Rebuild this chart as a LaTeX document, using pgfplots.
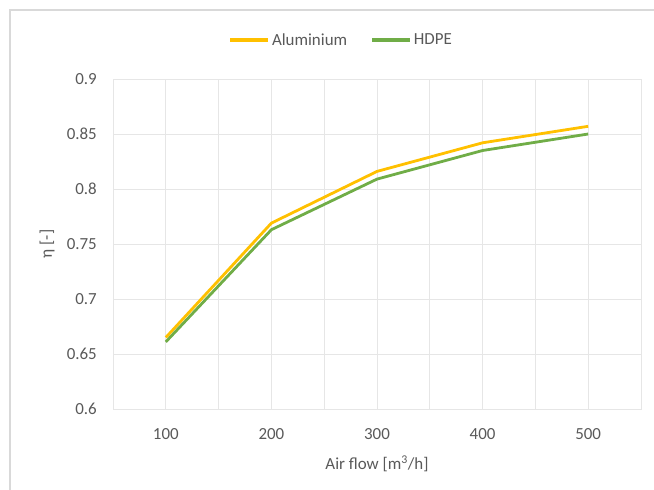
\documentclass[border=0pt]{standalone}
\usepackage{pgfplots}
\pgfplotsset{compat=1.18}
\usepackage{fontspec}
\setmainfont{Carlito}
\definecolor{alu}{HTML}{FFC000}
\definecolor{hdpe}{HTML}{70AD47}
\definecolor{txt}{HTML}{595959}
\definecolor{gridc}{HTML}{E6E6E6}
\definecolor{framec}{HTML}{D9D9D9}
\begin{document}
\begin{tikzpicture}
\path[use as bounding box] (0,0) rectangle (654bp,-490bp);
\draw[framec, line width=1.5bp] (10bp,-490bp) -- (10bp,-10bp) -- (654bp,-10bp);
\begin{axis}[
  at={(113bp,-409bp)}, anchor=south west,
  scale only axis, width=528bp, height=330bp,
  xmin=0.5, xmax=5.5, ymin=0.6, ymax=0.9,
  xtick={1,2,3,4,5}, xticklabels={100,200,300,400,500},
  minor xtick={1.5,2.5,3.5,4.5},
  ytick={0.6,0.65,0.7,0.75,0.8,0.85,0.9},
  yticklabels={0.6,0.65,0.7,0.75,0.8,0.85,0.9},
  grid=both,
  major grid style={gridc, line width=1bp},
  minor grid style={gridc, line width=1bp},
  axis line style={gridc, line width=1bp},
  major tick length=0pt, minor tick length=0pt,
  /pgf/number format/assume math mode=true,
  tick label style={font=\fontsize{17}{20}\selectfont, text=txt},
  yticklabel style={anchor=east, inner sep=0pt, xshift=-16bp},
  xticklabel style={anchor=north, inner sep=0pt, yshift=-19bp},
  xlabel={Air flow [m\textsuperscript{3}/h]},
  ylabel={η [-]},
  label style={font=\fontsize{17}{20}\selectfont, text=txt},
  xlabel style={at={(axis description cs:0.5,0)}, anchor=center, yshift=-55bp},
  ylabel style={at={(axis description cs:-0.125,0.5)}, anchor=center},
  legend columns=2,
  legend image code/.code={\draw[#1] (0bp,0bp) -- (38bp,0bp);},
  legend image post style={line width=3.6bp},
  legend style={font=\fontsize{17}{20}\selectfont, text=txt, draw=none, fill=none,
    at={(0.432,1.118)}, anchor=center,
    /tikz/every even column/.append style={column sep=21bp}},
]
\addplot[alu, line width=2.8bp, line join=round] coordinates {
  (1,0.665) (2,0.769) (3,0.816) (4,0.842) (5,0.857)};
\addlegendentry{Aluminium}
\addplot[hdpe, line width=2.8bp, line join=round] coordinates {
  (1,0.661) (2,0.763) (3,0.809) (4,0.835) (5,0.850)};
\addlegendentry{HDPE}
\end{axis}
\end{tikzpicture}
\end{document}
